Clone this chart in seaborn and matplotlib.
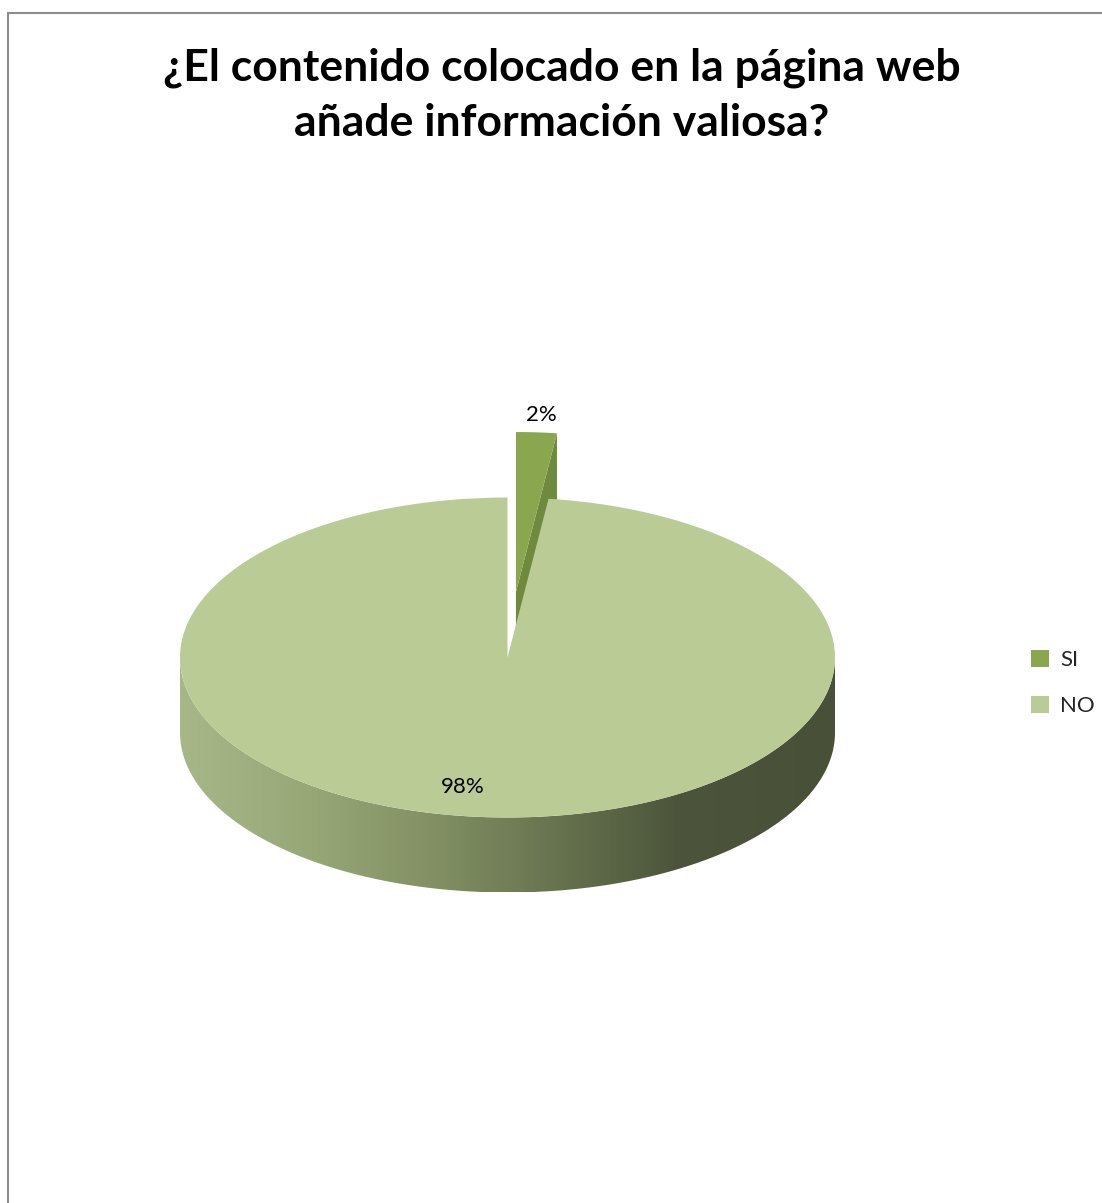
import numpy as np
import matplotlib
matplotlib.use("Agg")
import matplotlib.pyplot as plt
import seaborn as sns
from matplotlib.patches import Polygon, Rectangle, Patch
from matplotlib.colors import LinearSegmentedColormap

# Survey answers
categories = ["SI", "NO"]
percentages = [2, 98]
slice_colors = ["#8aa74f", "#bbcb96"]
slice_side_colors = ["#6f8a3f", None]
explode = [0.41, 0.0]
title_lines = ["¿El contenido colocado en la página web", "añade información valiosa?"]

sns.set_theme(style="white")
plt.rcParams["font.family"] = ["Lato", "DejaVu Sans"]

W, H = 1102, 1203
fig = plt.figure(figsize=(W / 100, H / 100), dpi=100)
fig.patch.set_facecolor("white")

# outer chart frame (runs off the right and bottom)
fig.add_artist(Rectangle((8 / W, -0.1), 2.0, 1 - 13 / H + 0.1,
                         transform=fig.transFigure, fill=False,
                         edgecolor="#8c8c8c", linewidth=1.5, zorder=0))

# title
fig.text(561.5 / W, 1 - 68 / H, title_lines[0], ha="center", va="center",
         fontsize=32, fontweight="bold", color="black")
fig.text(561.5 / W, 1 - 123 / H, title_lines[1], ha="center", va="center",
         fontsize=32, fontweight="bold", color="black")

# pie axes: one data unit = 327.5 px horizontally, 160 px vertically
cx, cy, ax_px, ay_px = 507.5, 657.5, 327.5, 160.0
xlim = (-1.2, 1.2)
ylim = (-1.8, 1.6)
left = cx + xlim[0] * ax_px
right = cx + xlim[1] * ax_px
top = cy - ylim[1] * ay_px
bottom = cy - ylim[0] * ay_px
ax = fig.add_axes([left / W, 1 - bottom / H, (right - left) / W, (bottom - top) / H])

wedges, _ = ax.pie(percentages, colors=slice_colors, startangle=90, counterclock=False,
                   explode=explode, radius=1.0, wedgeprops=dict(linewidth=0))
ax.set_aspect("auto")

depth = 75 / ay_px

for i, w in enumerate(wedges):
    (wx, wy), r = w.center, w.r
    t1, t2 = w.theta1, w.theta2
    if i == 0:
        w.set_zorder(2)
        # radial cut face on the clockwise edge of the exploded slice
        a = np.deg2rad(t1)
        px, py = wx + r * np.cos(a), wy + r * np.sin(a)
        quad = Polygon([(wx, wy), (px, py), (px, py - depth), (wx, wy - depth)],
                       closed=True, facecolor=slice_side_colors[0], edgecolor="none", zorder=1)
        ax.add_patch(quad)
    else:
        w.set_zorder(4)
        # front half of the rim, shaded light to dark from left to right
        lo, hi = max(t1, -180.0), min(t2, 0.0)
        ang = np.deg2rad(np.linspace(lo, hi, 200))
        xs = wx + r * np.cos(ang)
        ys = wy + r * np.sin(ang)
        verts = np.vstack([np.column_stack([xs, ys]),
                           np.column_stack([xs[::-1], ys[::-1] - depth])])
        rim = Polygon(verts, closed=True, facecolor="none", edgecolor="none", zorder=3)
        ax.add_patch(rim)
        cmap = LinearSegmentedColormap.from_list(
            "rim", [(0.0, "#a8b788"), (0.2, "#98a776"), (0.4, "#808e62"),
                    (0.6, "#636f4c"), (0.76, "#4c553b"), (1.0, "#485038")])
        grad = np.linspace(0, 1, 512)[None, :]
        img = ax.imshow(grad, cmap=cmap, extent=[wx - r, wx + r, wy - r - depth, wy],
                        aspect="auto", zorder=3, interpolation="bilinear")
        img.set_clip_path(rim)

# data labels
label_pos = [(0.102, 1.515), (-0.136, -0.81)]
for v, (lx, ly) in zip(percentages, label_pos):
    ax.text(lx, ly, f"{v}%", ha="center", va="center", fontsize=16, color="black", zorder=6)

ax.set_xlim(*xlim)
ax.set_ylim(*ylim)
ax.axis("off")

# legend
handles = [Patch(facecolor=c, edgecolor="none") for c in slice_colors]
fig.legend(handles, categories, loc="center left",
           bbox_to_anchor=(1011 / W, 1 - 683 / H), frameon=False, fontsize=16,
           handlelength=0.8, handleheight=0.8, handletextpad=0.5, labelspacing=1.15)

fig.savefig("out.png", dpi=100, facecolor="white")
